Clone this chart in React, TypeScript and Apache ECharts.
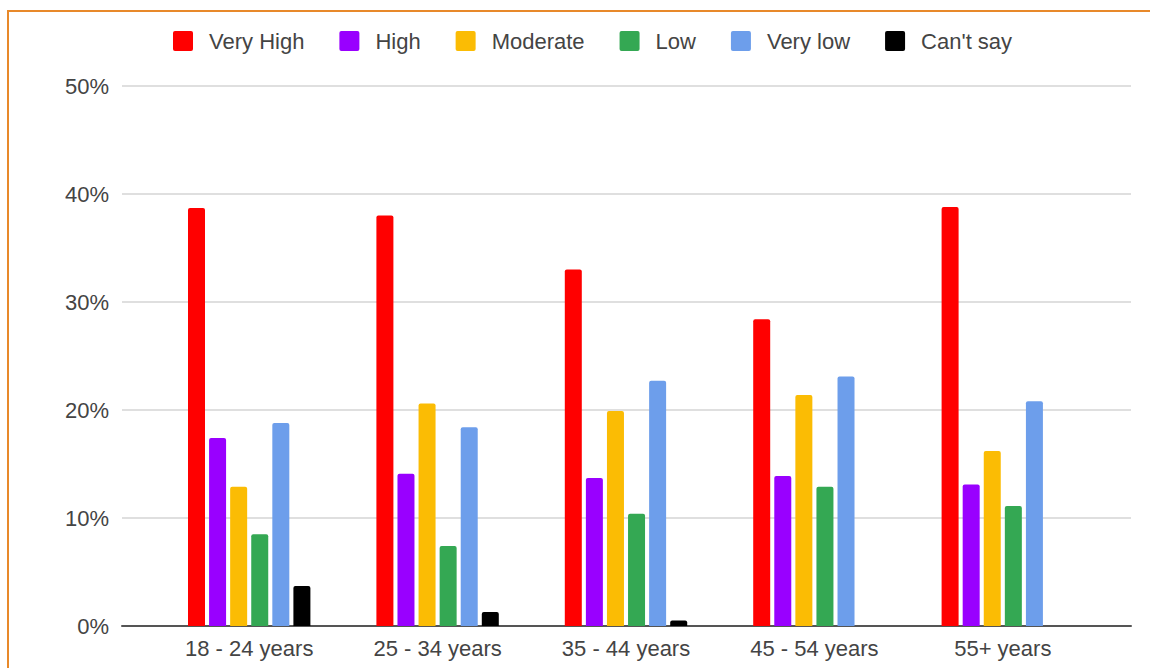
import React, { useEffect, useRef } from "react";
import * as echarts from "echarts";

const categories = ["18 - 24 years", "25 - 34 years", "35 - 44 years", "45 - 54 years", "55+ years"];
const seriesNames = ["Very High", "High", "Moderate", "Low", "Very low", "Can't say"];
const veryHigh = [38.7, 38.0, 33.0, 28.4, 38.8];
const high = [17.4, 14.1, 13.7, 13.9, 13.1];
const moderate = [12.9, 20.6, 19.9, 21.4, 16.2];
const low = [8.5, 7.4, 10.4, 12.9, 11.1];
const veryLow = [18.8, 18.4, 22.7, 23.1, 20.8];
const cantSay = [3.7, 1.3, 0.5, 0, 0];
const colors = ["#ff0000", "#9900ff", "#fbbc04", "#34a853", "#6d9eeb", "#000000"];
const yTicks = [0, 10, 20, 30, 40, 50];

export default function App() {
  const ref = useRef<HTMLDivElement>(null);
  useEffect(() => {
    if (!ref.current) return;
    const chart = echarts.init(ref.current, null, { renderer: "svg" });
    const values = [veryHigh, high, moderate, low, veryLow, cantSay];
    const font = "'Liberation Sans', Arial, Helvetica, sans-serif";
    chart.setOption({
      animation: false,
      backgroundColor: "#ffffff",
      textStyle: { fontFamily: font },
      color: colors,
      graphic: [
        {
          type: "rect",
          shape: { x: 8, y: 11, width: 1200, height: 700 },
          style: { fill: "none", stroke: "#e8892a", lineWidth: 2 },
          silent: true,
          z: 100,
        },
      ],
      legend: {
        data: seriesNames,
        left: 173,
        top: 30,
        padding: 0,
        itemWidth: 20,
        itemHeight: 20,
        itemGap: 35,
        icon: "path://M2,0 L18,0 Q20,0 20,2 L20,18 Q20,20 18,20 L2,20 Q0,20 0,18 L0,2 Q0,0 2,0 Z",
        textStyle: { fontSize: 22, color: "#444444", fontFamily: font, padding: [0, 0, 0, 11] },
      },
      grid: [
        { left: 122, right: 19, top: 86, bottom: 42 },
        { left: 155, right: 53, top: 86, bottom: 42 },
      ],
      xAxis: [
        {
          type: "category",
          gridIndex: 0,
          data: [""],
          axisLine: { show: true, lineStyle: { color: "#555555", width: 2 } },
          axisTick: { show: false },
          axisLabel: { show: false },
        },
        {
          type: "category",
          gridIndex: 1,
          data: categories,
          axisLine: { show: false },
          axisTick: { show: false },
          axisLabel: { fontSize: 22, color: "#444444", margin: 11, fontFamily: font },
        },
      ],
      yAxis: [
        {
          type: "value",
          gridIndex: 0,
          min: yTicks[0],
          max: yTicks[yTicks.length - 1],
          interval: 10,
          axisLine: { show: false },
          axisTick: { show: false },
          axisLabel: { fontSize: 22, color: "#444444", margin: 13, formatter: "{value}%", fontFamily: font },
          splitLine: { lineStyle: { color: "#d4d4d4", width: 1.5 } },
        },
        {
          type: "value",
          gridIndex: 1,
          min: yTicks[0],
          max: yTicks[yTicks.length - 1],
          interval: 10,
          show: false,
          splitLine: { show: false },
        },
      ],
      series: seriesNames.map((name, i) => ({
        name,
        type: "bar",
        xAxisIndex: 1,
        yAxisIndex: 1,
        data: values[i],
        barWidth: 17,
        barGap: "24%",
        itemStyle: { color: colors[i], borderRadius: [2, 2, 0, 0] },
      })),
    });
    return () => chart.dispose();
  }, []);
  return (
    <div
      ref={ref}
      style={{ position: "fixed", left: 0, top: 0, width: 1150, height: 668 }}
    />
  );
}
